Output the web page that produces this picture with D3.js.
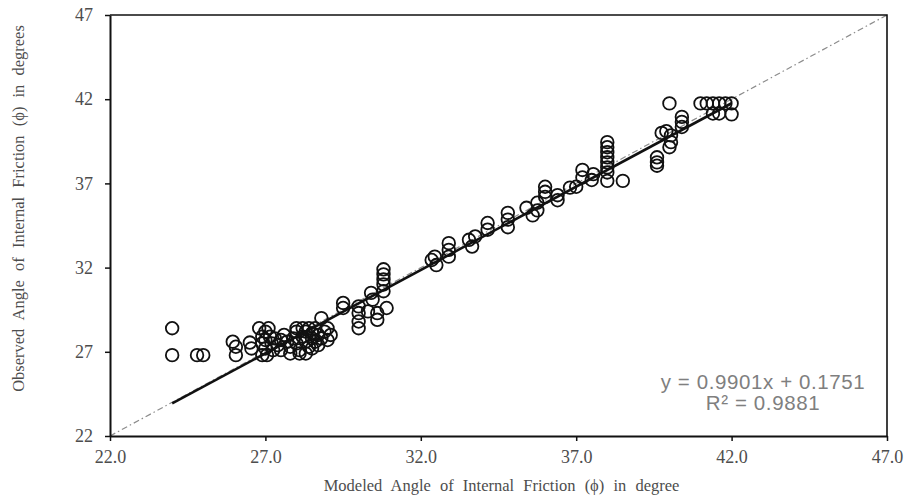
<!DOCTYPE html>
<html>
<head>
<meta charset="utf-8">
<script src="https://cdn.jsdelivr.net/npm/d3@7"></script>
<style>
  body { margin: 0; background: #fff; }
  svg { display: block; }
</style>
</head>
<body>
<svg id="chart" width="907" height="501"></svg>
<script>
// ticks
const xTicks = [22, 27, 32, 37, 42, 47];
const yTicks = [22, 27, 32, 37, 42, 47];

// trend line from the picture
const slope = 0.9901;
const intercept = 0.1751;
const r2 = 0.9881;

// modeled (x) and observed (y) angles
const modeled = [
  24.0, 24.0, 24.8, 25.0,
  25.95, 26.05, 26.05, 26.5, 26.55,
  26.8, 26.9, 26.9, 26.9, 27.0, 27.0, 27.0, 27.05, 27.1, 27.15, 27.2, 27.25,
  27.3, 27.4, 27.5, 27.5, 27.6, 27.7, 27.8, 27.8, 27.9, 28.0, 28.0, 28.0,
  28.1, 28.1, 28.2, 28.2, 28.3, 28.3, 28.4, 28.4, 28.5, 28.5, 28.6, 28.6,
  28.7, 28.7, 28.8, 28.8, 28.9, 29.0, 29.0, 29.1, 28.3, 28.5,
  29.5, 29.5,
  30.0, 30.0, 30.0, 30.0,
  30.3, 30.4, 30.45, 30.6, 30.6,
  30.8, 30.8, 30.8, 30.8, 30.8, 30.9,
  32.35, 32.45, 32.5, 32.9, 32.9, 32.9, 33.55, 33.65, 33.75, 34.15, 34.15,
  34.8, 34.8, 34.8, 35.4, 35.6, 35.75, 35.75, 36.0, 36.0, 36.0, 36.4, 36.4,
  36.8, 37.0, 37.2, 37.2, 37.5, 37.55,
  38.0, 38.0, 38.0, 38.0, 38.0, 38.0, 38.0, 38.0, 38.5,
  39.6, 39.6, 39.6,
  39.75, 39.9, 40.05, 40.05, 40.0,
  40.4, 40.4, 40.4,
  40.0,
  41.0, 41.2, 41.4, 41.6, 41.8, 42.0,
  41.4, 41.6, 42.0
];
const observed = [
  28.4, 26.8, 26.8, 26.8,
  27.6, 27.3, 26.8, 27.55, 27.2,
  28.4, 27.9, 27.5, 26.8, 28.2, 27.7, 27.2, 26.8, 28.4, 27.9, 27.5, 27.1,
  27.8, 27.4, 27.7, 27.1, 28.0, 27.6, 27.3, 26.9, 27.8, 28.2, 28.4, 27.5,
  27.1, 26.9, 28.4, 27.9, 27.6, 28.2, 27.3, 28.4, 27.8, 28.1, 27.6, 28.4,
  27.4, 28.0, 29.0, 27.8, 28.2, 28.4, 27.7, 28.0, 26.9, 27.2,
  29.9, 29.6,
  29.7, 29.3, 28.8, 28.4,
  29.4, 30.5, 30.1, 29.3, 28.9,
  31.9, 31.6, 31.3, 31.0, 30.6, 29.6,
  32.45, 32.65, 32.15, 33.45, 33.05, 32.65, 33.65, 33.25, 33.85, 34.65, 34.25,
  35.25, 34.85, 34.4, 35.55, 35.1, 35.85, 35.4, 36.8, 36.5, 36.2, 36.3, 36.0,
  36.75, 36.8, 37.8, 37.35, 37.2, 37.55,
  39.45, 39.15, 38.85, 38.55, 38.25, 37.95, 37.65, 37.15, 37.15,
  38.55, 38.25, 38.05,
  40.0, 40.1, 39.85, 39.45, 39.15,
  40.95, 40.65, 40.35,
  41.75,
  41.75, 41.75, 41.75, 41.75, 41.75, 41.75,
  41.15, 41.15, 41.1
];

const svg = d3.select('#chart');
const margin = {left: 110, right: 20, top: 15, bottom: 65};
const W = 907, H = 501;

const x = d3.scaleLinear().domain([22, 47]).range([margin.left, W - margin.right]);
const y = d3.scaleLinear().domain([22, 47]).range([H - margin.bottom, margin.top]);

// 1:1 line
svg.append('line')
  .attr('x1', x(22)).attr('y1', y(22))
  .attr('x2', x(47)).attr('y2', y(47))
  .attr('stroke', '#8c8c8c')
  .attr('stroke-width', 1.2)
  .attr('stroke-dasharray', '6,3,1.5,3');

// plot frame (top and right)
svg.append('path')
  .attr('d', `M${x(22)},${y(47)}H${x(47)}V${y(22)}`)
  .attr('fill', 'none')
  .attr('stroke', '#111')
  .attr('stroke-width', 1.6);

// axes
const tickFont = 'Liberation Serif, Times New Roman, serif';

const xAxis = svg.append('g')
  .attr('transform', `translate(0,${y(22)})`)
  .call(d3.axisBottom(x).tickValues(xTicks).tickSize(5).tickSizeOuter(0).tickFormat(d3.format('.1f')));
const yAxis = svg.append('g')
  .attr('transform', `translate(${x(22)},0)`)
  .call(d3.axisLeft(y).tickValues(yTicks).tickSize(5).tickSizeOuter(0).tickFormat(d3.format('d')));

[xAxis, yAxis].forEach(g => {
  g.select('.domain').attr('stroke', '#111').attr('stroke-width', 2);
  g.selectAll('.tick line').attr('stroke', '#111').attr('stroke-width', 1.5);
  g.selectAll('.tick text')
    .attr('fill', '#4d4d4d')
    .style('font-family', tickFont)
    .style('font-size', '18px');
});
xAxis.selectAll('.tick text').attr('y', 14).attr('dy', '0.71em');
yAxis.selectAll('.tick text').attr('x', -17);

// axis titles
svg.append('text')
  .attr('x', (x(22) + x(47)) / 2 + 3)
  .attr('y', 491)
  .attr('text-anchor', 'middle')
  .attr('fill', '#4d4d4d')
  .style('font-family', tickFont)
  .style('font-size', '16.5px')
  .style('word-spacing', '5px')
  .text('Modeled Angle  of Internal  Friction  (ϕ) in degree');

svg.append('text')
  .attr('transform', `translate(24,${(y(22) + y(47)) / 2 - 17}) rotate(-90)`)
  .attr('text-anchor', 'middle')
  .attr('fill', '#4d4d4d')
  .style('font-family', tickFont)
  .style('font-size', '16.5px')
  .style('word-spacing', '5px')
  .text('Observed Angle  of Internal  Friction  (ϕ) in degrees');

// points
svg.append('g')
  .selectAll('circle')
  .data(d3.zip(modeled, observed))
  .join('circle')
  .attr('cx', d => x(d[0]))
  .attr('cy', d => y(d[1]))
  .attr('r', 6.3)
  .attr('fill', 'none')
  .attr('stroke', '#111')
  .attr('stroke-width', 1.8);

// trend line over the data range
const ext = d3.extent(modeled);
svg.append('line')
  .attr('x1', x(ext[0])).attr('y1', y(slope * ext[0] + intercept))
  .attr('x2', x(ext[1])).attr('y2', y(slope * ext[1] + intercept))
  .attr('stroke', '#111')
  .attr('stroke-width', 2.6);

// equation
const eq = svg.append('text')
  .attr('fill', '#7f7f7f')
  .style('font-family', 'Liberation Sans, Arial, sans-serif')
  .style('font-size', '20.5px')
  .style('letter-spacing', '0.6px')
  .attr('text-anchor', 'middle');
eq.append('tspan').attr('x', 763).attr('y', 389)
  .text(`y = ${slope}x + ${intercept}`);
eq.append('tspan').attr('x', 763).attr('y', 410)
  .text(`R² = ${r2}`);
</script>
</body>
</html>
